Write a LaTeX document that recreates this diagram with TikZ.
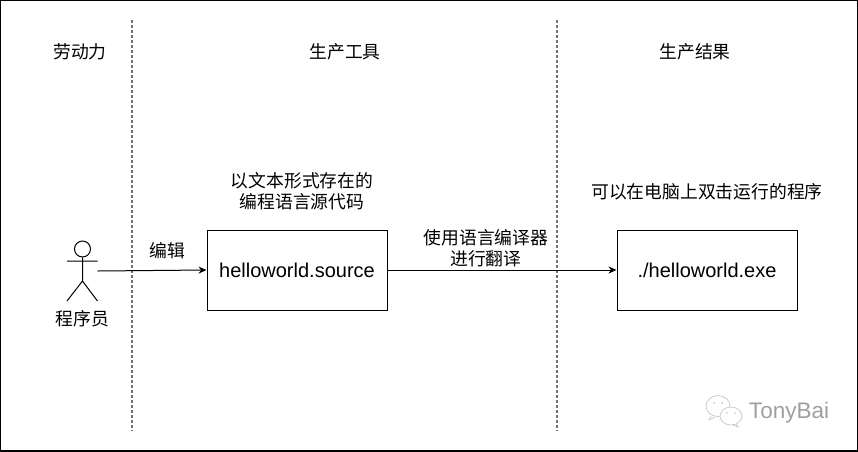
\documentclass[tikz,border=0pt]{standalone}
\usepackage{fontspec}
\setmainfont{Liberation Sans}
\newfontfamily\cjk{Noto Sans CJK SC}
\usetikzlibrary{arrows.meta,positioning}
\tikzset{
	filebox/.style={draw,line width=1pt,minimum width=180pt,minimum height=80pt,font=\fontsize{20}{22}\selectfont},
	cjklabel/.style={font=\cjk\fontsize{17.8}{21}\selectfont,align=center,inner sep=0pt},
	lane/.style={gray!90!black,line width=1.2pt,dash pattern=on 3pt off 2pt},
	mark line/.style={gray!45,line width=.7pt}
}

\begin{document}
\begin{tikzpicture}[>=stealth,x=1pt,y=-1pt]
		\useasboundingbox (0,0) rectangle (858,451);
		\draw[line width=2pt] (0,0) rectangle (858,451);

		% lanes
		\coordinate (L_1t) at (132,20);
		\coordinate (L_1b) at (132,431);
		\coordinate (L_2t) at (557,20);
		\coordinate (L_2b) at (557,431);
		\draw[lane] (L_1t) -- (L_1b);
		\draw[lane] (L_2t) -- (L_2b);

		\node[cjklabel] (T_1) at (80,51.5) {劳动力};
		\node[cjklabel] (T_2) at (345,51.5) {生产工具};
		\node[cjklabel] (T_3) at (695,51.5) {生产结果};

		% boxes
		\node[filebox] (source) at (297,270) {helloworld.source};
		\node[filebox] (exe)    at (707,270) {./helloworld.exe};
		\node[cjklabel] (source_t) at (302,191.5) {以文本形式存在的\\编程语言源代码};
		\node[cjklabel] (exe_t) at (707,191.5) {可以在电脑上双击运行的程序};

		% stick figure
		\node[draw,circle,minimum size=16pt,inner sep=0pt,line width=1pt] (head) at (82.5,249) {};
		\coordinate (hip) at (82.5,281);
		\coordinate (arm_l) at (67,261);
		\coordinate (arm_r) at (97.5,261);
		\coordinate (foot_l) at (67,301);
		\coordinate (foot_r) at (97.5,301);
		\draw[line width=1pt] (head.south) -- (hip) (arm_l) -- (arm_r) (foot_l) -- (hip) -- (foot_r);
		\node[cjklabel] (coder) at (82.5,318.5) {程序员};
		\coordinate (coder_out) at (97.5,271);

		\path[-{Stealth[length=8pt,width=7pt]}]
		(coder_out) edge[line width=1pt] node[cjklabel,above=10.5pt,pos=.64] (edit) {编辑} (source.west)
		(source.east) edge[line width=1pt] node[cjklabel,above=3pt,pos=.43] (trans) {使用语言编译器\\进行翻译} (exe.west);

		% mark in the corner
		\begin{scope}[mark line]
			\draw (718,406) ellipse (12pt and 10.5pt);
			\draw[fill=white] (731,416) ellipse (11pt and 9pt);
			\draw (711,416) -- (709,420) -- (715,417);
			\draw (736,424) -- (738,427) -- (733,425);
			\fill (714,403) circle (1pt) (722,403) circle (1pt) (727,413) circle (.8pt) (735,413) circle (.8pt);
		\end{scope}
		\node[text=gray!75,font=\fontsize{22.5}{24}\selectfont] (brand) at (789,413) {TonyBai};
\end{tikzpicture}
\end{document}
